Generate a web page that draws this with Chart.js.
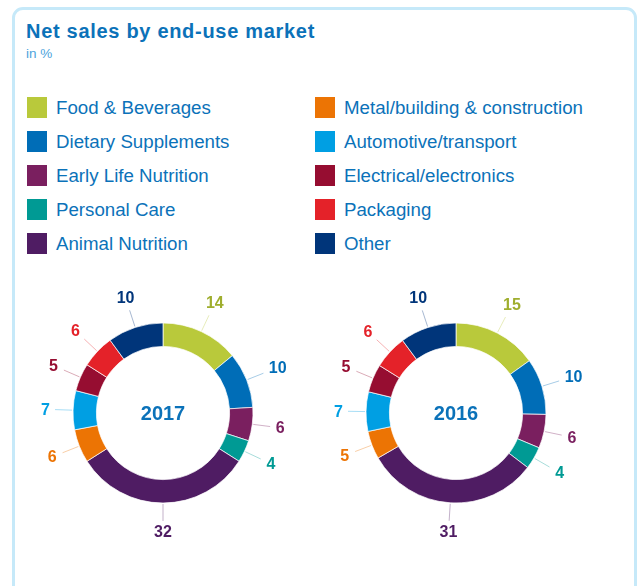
<!DOCTYPE html>
<html>
<head>
<meta charset="utf-8">
<script src="https://cdn.jsdelivr.net/npm/chart.js@4.4.1/dist/chart.umd.min.js"></script>
<style>
  html, body { margin: 0; padding: 0; background: #fff; }
  body { width: 638px; height: 586px; position: relative; overflow: hidden; font-family: "Liberation Sans", Arial, sans-serif; }
  .card { position: absolute; left: 12px; top: 7px; width: 619px; height: 600px; border: 3px solid #c6e9f9; border-radius: 11px; }
  h1 { position: absolute; left: 26px; top: 20px; margin: 0; font-size: 20px; font-weight: bold; letter-spacing: 0.7px; color: #0b72b9; white-space: nowrap; }
  .sub { position: absolute; left: 26px; top: 46px; font-size: 13.5px; color: #4ba3dc; }
  .legend { position: absolute; left: 27px; top: 97px; }
  .item { position: absolute; height: 21px; display: flex; align-items: center; white-space: nowrap; font-size: 18.7px; color: #0b72b9; }
  .sw { width: 20px; height: 21px; margin-right: 9px; }
  canvas { position: absolute; }
</style>
</head>
<body>
<div class="card"></div>
<h1>Net sales by end-use market</h1>
<div class="sub">in %</div>
<div class="legend" id="legend"></div>
<canvas id="c2017" width="300" height="300" style="left:12.5px; top:262.5px; width:300px; height:300px;"></canvas>
<canvas id="c2016" width="300" height="300" style="left:306px; top:262.5px; width:300px; height:300px;"></canvas>
<script>
const categories = ['Food & Beverages', 'Dietary Supplements', 'Early Life Nutrition', 'Personal Care', 'Animal Nutrition',
  'Metal/building & construction', 'Automotive/transport', 'Electrical/electronics', 'Packaging', 'Other'];
const values2017 = [14, 10, 6, 4, 32, 6, 7, 5, 6, 10];
const values2016 = [15, 10, 6, 4, 31, 5, 7, 5, 6, 10];
const colors = ['#b9c93b', '#006db7', '#7a1f5f', '#009a94', '#4f1c63', '#ec7404', '#009fe3', '#960d31', '#e42229', '#00357a'];
const labelColors = ['#9fae2e', '#006db7', '#7a1f5f', '#009a94', '#4f1c63', '#ec7404', '#009fe3', '#960d31', '#e42229', '#00357a'];

// legend (2 columns x 5 rows)
const legend = document.getElementById('legend');
categories.forEach((name, i) => {
  const col = Math.floor(i / 5), row = i % 5;
  const el = document.createElement('div');
  el.className = 'item';
  el.style.left = (col * 288) + 'px';
  el.style.top = (row * 34) + 'px';
  el.innerHTML = '<div class="sw" style="background:' + colors[i] + '"></div>' + name;
  legend.appendChild(el);
});

function hexA(hex, a) {
  const n = parseInt(hex.slice(1), 16);
  return 'rgba(' + (n >> 16) + ',' + ((n >> 8) & 255) + ',' + (n & 255) + ',' + a + ')';
}

// leader lines, outside value labels and the year in the middle
const outsideLabels = {
  id: 'outsideLabels',
  afterDatasetsDraw(chart, args, opts) {
    const ctx = chart.ctx;
    const meta = chart.getDatasetMeta(0);
    const data = chart.data.datasets[0].data;
    ctx.save();
    ctx.font = 'bold 16px "Liberation Sans", Arial, sans-serif';
    ctx.textAlign = 'center';
    ctx.textBaseline = 'middle';
    meta.data.forEach((arc, i) => {
      const p = arc.getProps(['x', 'y', 'startAngle', 'endAngle', 'outerRadius']);
      const a = (p.startAngle + p.endAngle) / 2;
      const ux = Math.cos(a), uy = Math.sin(a);
      ctx.strokeStyle = hexA(colors[i], 0.35);
      ctx.lineWidth = 1;
      ctx.beginPath();
      ctx.moveTo(p.x + ux * (p.outerRadius + 1), p.y + uy * (p.outerRadius + 1));
      ctx.lineTo(p.x + ux * (p.outerRadius + 18), p.y + uy * (p.outerRadius + 18));
      ctx.stroke();
      const txt = String(data[i]);
      const w = ctx.measureText(txt).width, h = 11;
      const d = p.outerRadius + 23 + (w / 2) * Math.abs(ux) + (h / 2) * Math.abs(uy);
      ctx.fillStyle = labelColors[i];
      ctx.fillText(txt, p.x + ux * d, p.y + uy * d + 1);
    });
    const c = meta.data[0];
    ctx.font = 'bold 20px "Liberation Sans", Arial, sans-serif';
    ctx.fillStyle = '#0b72b9';
    ctx.fillText(opts.year, c.x, c.y + 1);
    ctx.restore();
  }
};

function makeChart(id, values, year) {
  return new Chart(document.getElementById(id), {
    type: 'doughnut',
    data: {
      labels: categories,
      datasets: [{
        data: values,
        backgroundColor: colors,
        borderColor: 'rgba(255,255,255,0.7)',
        borderWidth: 1
      }]
    },
    options: {
      responsive: false,
      animation: false,
      cutout: '74%',
      layout: { padding: 59.5 },
      plugins: {
        legend: { display: false },
        tooltip: { enabled: false },
        outsideLabels: { year: year }
      }
    },
    plugins: [outsideLabels]
  });
}

makeChart('c2017', values2017, '2017');
makeChart('c2016', values2016, '2016');
</script>
</body>
</html>
